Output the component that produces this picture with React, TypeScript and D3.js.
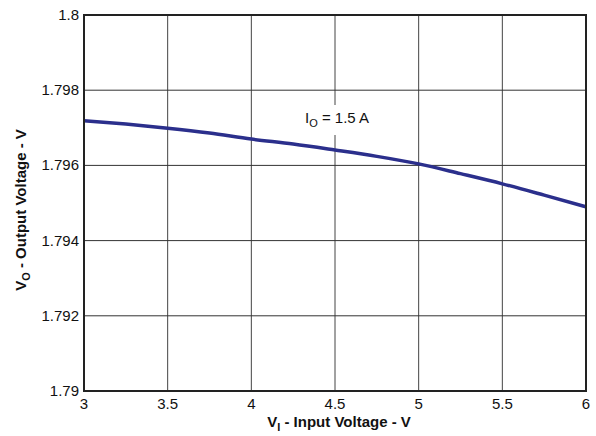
import React from "react";
import * as d3 from "d3";

const inputVoltage = [3.0, 3.25, 3.5, 3.75, 4.0, 4.25, 4.5, 4.75, 5.0, 5.25, 5.5, 5.75, 6.0];
const outputVoltage = [1.79719, 1.7971, 1.79699, 1.79686, 1.7967, 1.79657, 1.79641, 1.79624, 1.79604, 1.79578, 1.79551, 1.79521, 1.7949];
const xTicks = [3, 3.5, 4, 4.5, 5, 5.5, 6];
const xTickLabels = ["3", "3.5", "4", "4.5", "5", "5.5", "6"];
const yTicks = [1.79, 1.792, 1.794, 1.796, 1.798, 1.8];
const yTickLabels = ["1.79", "1.792", "1.794", "1.796", "1.798", "1.8"];

const W = 596, H = 436;
const L = 84, R = 586, T = 15, B = 391;
const FONT = "Liberation Sans, Arial, sans-serif";

export default function App() {
  const x = d3.scaleLinear().domain([3, 6]).range([L, R]);
  const y = d3.scaleLinear().domain([1.79, 1.8]).range([B, T]);
  const line = d3.line<number>().x((_, i) => x(inputVoltage[i])).y((d) => y(d)).curve(d3.curveMonotoneX);

  return (
    <svg width={W} height={H} style={{ position: "absolute", left: 0, top: 0, background: "#fff" }}>
      <rect x={0} y={0} width={W} height={H} fill="#fff" />
      {xTicks.map((t) => (
        <line key={"gx" + t} x1={x(t)} x2={x(t)} y1={T} y2={B} stroke="#444" strokeWidth={1} />
      ))}
      {yTicks.map((t) => (
        <line key={"gy" + t} x1={L} x2={R} y1={y(t)} y2={y(t)} stroke="#333" strokeWidth={1} />
      ))}
      <rect x={298} y={105} width={82} height={30} fill="#fff" />
      <path d={line(outputVoltage) || ""} fill="none" stroke="#2b2f8c" strokeWidth={3.5} strokeLinejoin="round" />
      <rect x={L} y={T} width={R - L} height={B - T} fill="none" stroke="#222" strokeWidth={2} />
      {xTicks.map((t, i) => (
        <text key={"tx" + t} x={x(t)} y={409} fontSize={15} fontFamily={FONT} textAnchor="middle" fill="#111">
          {xTickLabels[i]}
        </text>
      ))}
      {yTicks.map((t, i) => (
        <text key={"ty" + t} x={79} y={y(t) + 5} fontSize={15} fontFamily={FONT} textAnchor="end" fill="#111">
          {yTickLabels[i]}
        </text>
      ))}
      <text x={305} y={123} fontSize={15} fontFamily={FONT} fill="#111">
        I<tspan fontSize={11} dy={4}>O</tspan>
        <tspan dy={-4}> = 1.5 A</tspan>
      </text>
      <text x={339} y={427} fontSize={15} fontWeight="bold" fontFamily={FONT} textAnchor="middle" fill="#111">
        V<tspan fontSize={11} dy={4}>I</tspan>
        <tspan dy={-4}> - Input Voltage - V</tspan>
      </text>
      <text
        transform={`translate(26, 210) rotate(-90)`}
        fontSize={15}
        fontWeight="bold"
        fontFamily={FONT}
        textAnchor="middle"
        fill="#111"
      >
        V<tspan fontSize={11} dy={4}>O</tspan>
        <tspan dy={-4}> - Output Voltage - V</tspan>
      </text>
    </svg>
  );
}
